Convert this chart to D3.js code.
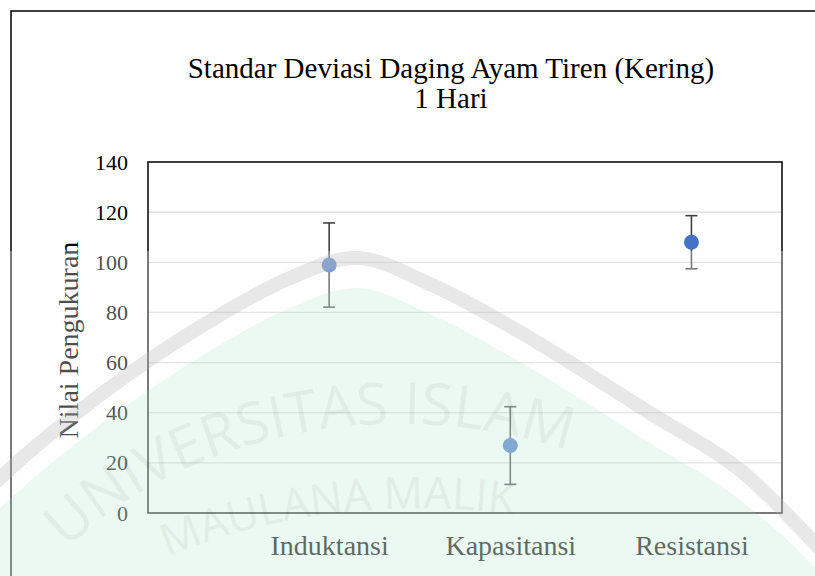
<!DOCTYPE html>
<html>
<head>
<meta charset="utf-8">
<script src="https://cdn.jsdelivr.net/npm/d3@7"></script>
<style>
  body { margin: 0; background: #fff; }
</style>
</head>
<body>
<div id="chart"></div>
<script>
// data
const categories = ['Induktansi', 'Kapasitansi', 'Resistansi'];
const xPos = [1, 2, 3];
const means = [98.9, 26.9, 108.0];
const stdev = [16.8, 15.5, 10.6];
const yTicks = [0, 20, 40, 60, 80, 100, 120, 140];
const titleLines = ['Standar Deviasi Daging Ayam Tiren (Kering)', '1 Hari'];

const serif = '"Liberation Serif", "Times New Roman", serif';

let w = 815;
let h = 576;
let plot = { left: 148, right: 782, top: 162, bottom: 513 };

let svg = d3.select('#chart')
  .append('svg')
  .attr('width', w)
  .attr('height', h);

let x = d3.scaleLinear().domain([0, 3.5]).range([plot.left, plot.right]);
let y = d3.scaleLinear().domain([0, 140]).range([plot.bottom, plot.top]);

// outer frame (right/bottom edges run off the picture)
svg.append('rect')
  .attr('x', 11).attr('y', 11)
  .attr('width', w + 20).attr('height', h + 20)
  .attr('fill', 'none')
  .attr('stroke', '#000')
  .attr('stroke-width', 1.5);

// title
svg.append('text')
  .style('font-family', serif)
  .attr('text-anchor', 'middle')
  .attr('font-size', 29)
  .attr('fill', '#000')
  .selectAll('tspan')
  .data(titleLines)
  .enter()
  .append('tspan')
  .attr('x', 451)
  .attr('y', function(d, i) { return 78 + i * 30; })
  .text(function(d) { return d; });

// gridlines
svg.append('g')
  .selectAll('line')
  .data(yTicks.filter(function(d) { return d > 0 && d < 140; }))
  .enter()
  .append('line')
  .attr('x1', plot.left).attr('x2', plot.right)
  .attr('y1', function(d) { return y(d); })
  .attr('y2', function(d) { return y(d); })
  .attr('stroke', '#d9d9d9')
  .attr('stroke-width', 1.2);

// plot border
svg.append('rect')
  .attr('x', plot.left).attr('y', plot.top)
  .attr('width', plot.right - plot.left)
  .attr('height', plot.bottom - plot.top)
  .attr('fill', 'none')
  .attr('stroke', '#000')
  .attr('stroke-width', 1.5);

// y axis labels
let yAxis = d3.axisLeft(y).tickValues(yTicks).tickSize(0).tickPadding(20);
let yg = svg.append('g')
  .attr('transform', 'translate(' + plot.left + ',0)')
  .call(yAxis);
yg.select('.domain').remove();
yg.selectAll('text')
  .style('font-family', serif)
  .style('font-size', '22px')
  .attr('fill', '#000');

// x category labels
let xAxis = d3.axisBottom(x).tickValues(xPos)
  .tickFormat(function(d, i) { return categories[i]; })
  .tickSize(0).tickPadding(22);
let xg = svg.append('g')
  .attr('transform', 'translate(0,' + plot.bottom + ')')
  .call(xAxis);
xg.select('.domain').remove();
xg.selectAll('text')
  .style('font-family', serif)
  .style('font-size', '28px')
  .attr('fill', '#000');

// y axis title
svg.append('text')
  .style('font-family', serif)
  .attr('transform', 'translate(78,340) rotate(-90)')
  .attr('text-anchor', 'middle')
  .attr('font-size', 28)
  .attr('fill', '#000')
  .text('Nilai Pengukuran');

// error bars
let pts = xPos.map(function(d, i) { return { x: d, m: means[i], sd: stdev[i] }; });
let eb = svg.append('g')
  .attr('stroke', '#404040')
  .attr('stroke-width', 1.6);
eb.selectAll('line.v')
  .data(pts).enter().append('line')
  .attr('class', 'v')
  .attr('x1', function(d) { return x(d.x); })
  .attr('x2', function(d) { return x(d.x); })
  .attr('y1', function(d) { return y(d.m - d.sd); })
  .attr('y2', function(d) { return y(d.m + d.sd); });
[-1, 1].forEach(function(s) {
  eb.selectAll('line.c' + (s + 1))
    .data(pts).enter().append('line')
    .attr('class', 'c' + (s + 1))
    .attr('x1', function(d) { return x(d.x) - 6; })
    .attr('x2', function(d) { return x(d.x) + 6; })
    .attr('y1', function(d) { return y(d.m + s * d.sd); })
    .attr('y2', function(d) { return y(d.m + s * d.sd); });
});

// points
svg.selectAll('circle.pt')
  .data(pts).enter().append('circle')
  .attr('class', 'pt')
  .attr('cx', function(d) { return x(d.x); })
  .attr('cy', function(d) { return y(d.m); })
  .attr('r', 7.5)
  .attr('fill', '#4472c4');

// watermark overlay (university logo showing through the scan)
let wm = svg.append('g');
wm.append('rect')
  .attr('x', 0).attr('y', 251)
  .attr('width', w).attr('height', h - 251)
  .attr('fill', '#fff')
  .attr('opacity', 0.3);

let arch = d3.line().curve(d3.curveCatmullRom);
let band = [[-60, 540], [0, 478], [100, 395], [200, 327], [290, 278], [357, 258], [430, 284], [520, 332], [650, 413], [740, 470], [830, 560]];
let inner = band.map(function(p) { return [p[0], p[1] + 30]; });
wm.append('path')
  .attr('d', arch(inner.concat([[830, 620], [-60, 620]])))
  .attr('fill', '#a0dcbc')
  .attr('opacity', 0.2);
wm.append('path')
  .attr('d', arch(band))
  .attr('fill', 'none')
  .attr('stroke', '#b4b4b4')
  .attr('stroke-width', 14)
  .attr('opacity', 0.3);

let defs = svg.append('defs');
defs.append('path').attr('id', 'arcOuter')
  .attr('d', 'M 60,556 A 420,320 0 0 1 740,556');
defs.append('path').attr('id', 'arcInner')
  .attr('d', 'M 160,560 A 420,240 0 0 1 680,560');
wm.append('text')
  .style('font-family', '"Open Sans", sans-serif')
  .attr('font-size', 58)
  .attr('fill', '#000')
  .attr('opacity', 0.045)
  .append('textPath')
  .attr('href', '#arcOuter')
  .attr('startOffset', 10)
  .text('UNIVERSITAS ISLAM');
wm.append('text')
  .style('font-family', '"Open Sans", sans-serif')
  .attr('font-size', 44)
  .attr('fill', '#000')
  .attr('opacity', 0.045)
  .append('textPath')
  .attr('href', '#arcInner')
  .attr('startOffset', 8)
  .text('MAULANA MALIK');
</script>
</body>
</html>
